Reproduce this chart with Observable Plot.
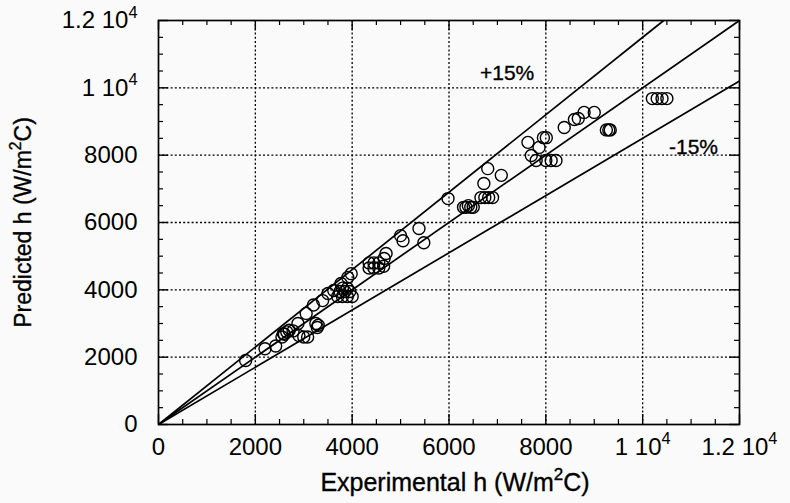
<!DOCTYPE html>
<html>
<head>
<meta charset="utf-8">
<script src="https://cdn.jsdelivr.net/npm/d3@7"></script>
<script src="https://cdn.jsdelivr.net/npm/@observablehq/plot@0.6"></script>
<style>
  html, body { margin: 0; padding: 0; background: #fafafa; }
  #chart svg { display: block; }
</style>
</head>
<body>
<div id="chart"></div>
<script>
// Experimental vs predicted heat-transfer coefficient h (W/m²C)
const experimental = [
  1800, 2200, 2420, 2550, 2600, 2650, 2580, 2700, 2780, 2880, 2900, 3000, 3050, 3080,
  3200, 3250, 3280, 3300, 3390, 3500, 3620, 3770, 3910, 3980,
  3700, 3800, 3900, 4000, 3750, 3850, 3950, 3800, 3900,
  4350, 4450, 4550, 4350, 4450, 4550, 4650, 4660, 4700,
  5000, 5050, 5380, 5480, 5980,
  6300, 6350, 6400, 6450, 6500, 6660, 6740, 6820, 6900, 6720, 6800, 7080,
  7630, 7700, 7800, 7860, 7950, 8010, 8000, 8110, 8210, 8380, 8590, 8670, 8790, 9000,
  9250, 9300, 9330, 10200, 10300, 10400, 10500
];
const predicted = [
  1900, 2250, 2330, 2600, 2680, 2750, 2700, 2800, 2780, 3000, 2640, 2600, 3300, 2600,
  3550, 3000, 2880, 2950, 3680, 3890, 3980, 4190, 4370, 4480,
  3800, 3800, 3800, 3800, 3950, 3950, 3950, 4050, 4050,
  4650, 4650, 4650, 4800, 4800, 4800, 4700, 4930, 5080,
  5610, 5460, 5820, 5400, 6710,
  6450, 6450, 6500, 6450, 6450, 6740, 6740, 6740, 6740, 7160, 7600, 7400,
  8380, 7990, 7840, 8230, 8520, 8520, 7840, 7840, 7840, 8820, 9060, 9090, 9270, 9270,
  8750, 8750, 8750, 9680, 9680, 9680, 9680
];

// reference lines: predicted = ratio * experimental
const ratios = [1.15, 1, 0.85];
const ratioLabels = ["+15%", "-15%"];
const ratioLabelX = [7200, 11050];
const ratioLabelY = [10420, 8230];

const axisMax = 12000;
const majorTicks = [0, 2000, 4000, 6000, 8000, 10000, 12000];
const tickLabels = ["0", "2000", "4000", "6000", "8000", "1 10\u2074", "1.2 10\u2074"];
const gridValues = [2000, 4000, 6000, 8000, 10000];
const minorTicks = [500, 1000, 1500, 2500, 3000, 3500, 4500, 5000, 5500, 6500, 7000, 7500,
                    8500, 9000, 9500, 10500, 11000, 11500];

const xTitle = "Experimental h (W/m\u00B2C)";
const yTitle = "Predicted h (W/m\u00B2C)";

// build tables
const points = experimental.map((e, i) => ({e, p: predicted[i]}));
const refLines = ratios.map(k => ({x1: 0, y1: 0, x2: Math.min(axisMax, axisMax / k), y2: Math.min(axisMax, axisMax * k)}));
const labels = ratioLabels.map((t, i) => ({t, x: ratioLabelX[i], y: ratioLabelY[i]}));

const W = 790, H = 503;
const mL = 158, mR = 51, mT = 20, mB = 79;
// tick lengths expressed in data units (pixels / pixels-per-unit)
const pxX = (W - mL - mR) / axisMax, pxY = (H - mT - mB) / axisMax;
const majX = 10 / pxX, majY = 10 / pxY, minX = 5 / pxX, minY = 5 / pxY;

const fmt = d => tickLabels[majorTicks.indexOf(d)];
const font = "'Liberation Sans', Arial, Helvetica, sans-serif";
const ink = {fill: "black", stroke: "black", strokeWidth: 0.35};

const chart = Plot.plot({
  width: W, height: H,
  marginLeft: mL, marginRight: mR, marginTop: mT, marginBottom: mB,
  style: {fontFamily: font, fontSize: "23px", background: "#fafafa", color: "black"},
  x: {domain: [0, axisMax], label: null},
  y: {domain: [0, axisMax], label: null},
  marks: [
    // dotted grid
    Plot.ruleX(gridValues, {x: d => d, stroke: "black", strokeWidth: 1.3, strokeDasharray: "2,2.2"}),
    Plot.ruleY(gridValues, {y: d => d, stroke: "black", strokeWidth: 1.3, strokeDasharray: "2,2.2"}),
    // inward ticks on all four sides
    Plot.ruleX(majorTicks, {x: d => d, y1: 0, y2: majY, stroke: "black", strokeWidth: 1.4}),
    Plot.ruleX(majorTicks, {x: d => d, y1: axisMax, y2: axisMax - majY, stroke: "black", strokeWidth: 1.4}),
    Plot.ruleY(majorTicks, {y: d => d, x1: 0, x2: majX, stroke: "black", strokeWidth: 1.4}),
    Plot.ruleY(majorTicks, {y: d => d, x1: axisMax, x2: axisMax - majX, stroke: "black", strokeWidth: 1.4}),
    Plot.ruleX(minorTicks, {x: d => d, y1: 0, y2: minY, stroke: "black", strokeWidth: 1.2}),
    Plot.ruleX(minorTicks, {x: d => d, y1: axisMax, y2: axisMax - minY, stroke: "black", strokeWidth: 1.2}),
    Plot.ruleY(minorTicks, {y: d => d, x1: 0, x2: minX, stroke: "black", strokeWidth: 1.2}),
    Plot.ruleY(minorTicks, {y: d => d, x1: axisMax, x2: axisMax - minX, stroke: "black", strokeWidth: 1.2}),
    // reference lines
    Plot.link(refLines, {x1: "x1", y1: "y1", x2: "x2", y2: "y2", stroke: "black", strokeWidth: 1.7}),
    // data
    Plot.dot(points, {x: "e", y: "p", r: 6, stroke: "black", strokeWidth: 1.4, fill: "none"}),
    // annotations
    Plot.text(labels, {x: "x", y: "y", text: "t", fontSize: 21, ...ink}),
    // frame
    Plot.frame({stroke: "black", strokeWidth: 1.7}),
    // axes
    Plot.axisX({ticks: majorTicks, tickFormat: fmt, tickSize: 0, tickPadding: 13, fontSize: 24, label: null, ...ink}),
    Plot.axisY({ticks: majorTicks, tickFormat: fmt, tickSize: 0, tickPadding: 21, fontSize: 24, label: null, ...ink}),
    Plot.text([xTitle], {frameAnchor: "bottom", dx: 6, dy: 66, fontSize: 25, textAnchor: "middle", ...ink}),
    Plot.text([yTitle], {frameAnchor: "left", dx: -135, rotate: -90, fontSize: 23, textAnchor: "middle", ...ink})
  ]
});
document.getElementById("chart").appendChild(chart);

// render superscript characters as raised tspans (still real text)
const supMap = {"\u00B2": "2", "\u2074": "4"};
d3.select(chart).selectAll("text").each(function () {
  const s = this.textContent;
  const m = s.match(/[\u00B2\u2074]/);
  if (!m) return;
  const fs = parseFloat(getComputedStyle(this).fontSize) || 22;
  const [a, b] = [s.slice(0, m.index), s.slice(m.index + 1)];
  const el = d3.select(this);
  el.text(null);
  el.append("tspan").text(a);
  el.append("tspan").attr("dy", -0.42 * fs).attr("font-size", 0.68 * fs).text(supMap[m[0]]);
  if (b) el.append("tspan").attr("dy", 0.42 * fs).text(b);
});
</script>
</body>
</html>
